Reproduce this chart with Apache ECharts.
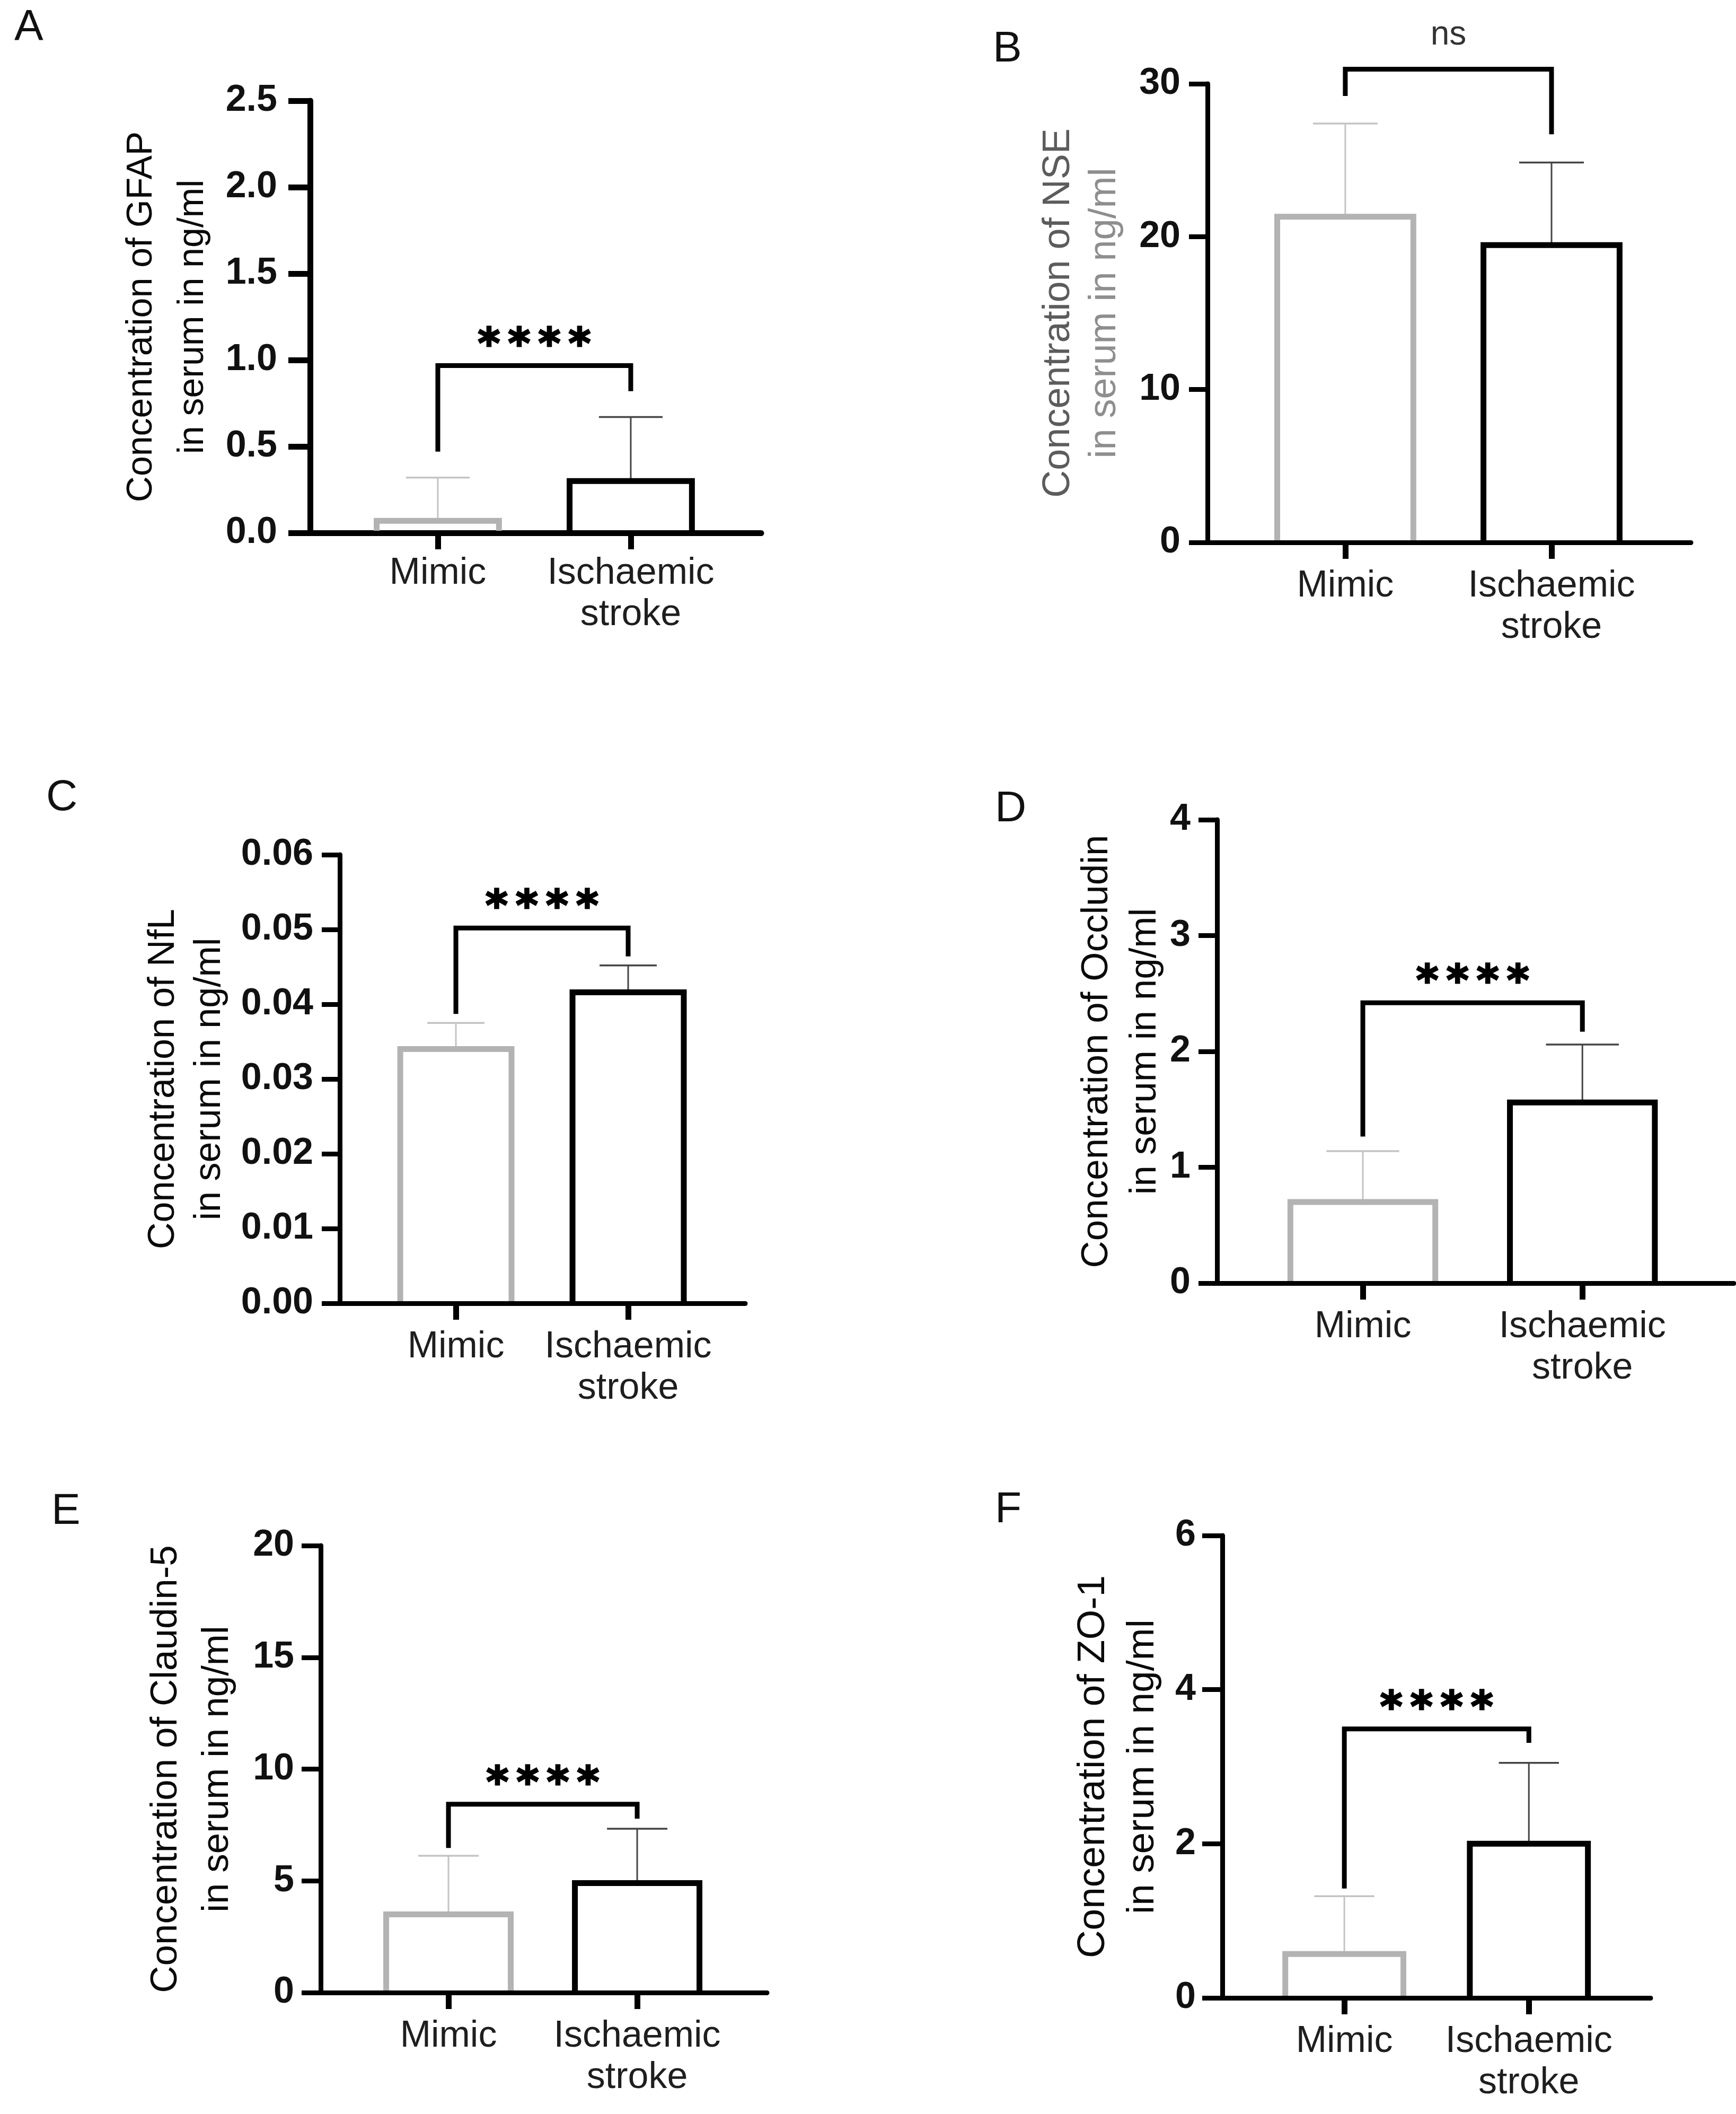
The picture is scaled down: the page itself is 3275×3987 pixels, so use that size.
<!DOCTYPE html>
<html>
<head>
<meta charset="utf-8">
<script src="https://cdn.jsdelivr.net/npm/echarts@6/dist/echarts.min.js"></script>
<style>
html,body{margin:0;padding:0;background:#fff;}
#chart{width:3275px;height:3987px;}
</style>
</head>
<body>
<div id="chart"></div>
<script>
// ---------------- DATA ----------------
const categories = ['Mimic', 'Ischaemic\nstroke'];
const categoryPositions = [1, 2];

// Panel A - GFAP
const gfapTitle = ['Concentration of GFAP', 'in serum in ng/ml'];
const gfapMean = [0.07, 0.30];
const gfapUpper = [0.32, 0.67];
const gfapBracket = [0.47, 0.968, 0.82];   // left foot, top, right foot
const gfapSig = '****';
const gfapTicks = [0, 0.5, 1.0, 1.5, 2.0, 2.5];

// Panel B - NSE
const nseTitle = ['Concentration of NSE', 'in serum in ng/ml'];
const nseMean = [21.3, 19.45];
const nseUpper = [27.4, 24.85];
const nseBracket = [29.2, 30.95, 26.7];
const nseSig = 'ns';
const nseTicks = [0, 10, 20, 30];

// Panel C - NfL
const nflTitle = ['Concentration of NfL', 'in serum in ng/ml'];
const nflMean = [0.034, 0.0416];
const nflUpper = [0.0375, 0.0452];
const nflBracket = [0.0387, 0.0502, 0.0464];
const nflSig = '****';
const nflTicks = [0, 0.01, 0.02, 0.03, 0.04, 0.05, 0.06];

// Panel D - Occludin
const occTitle = ['Concentration of Occludin', 'in serum in ng/ml'];
const occMean = [0.70, 1.56];
const occUpper = [1.14, 2.06];
const occBracket = [1.265, 2.42, 2.17];
const occSig = '****';
const occTicks = [0, 1, 2, 3, 4];

// Panel E - Claudin-5
const cldTitle = ['Concentration of Claudin-5', 'in serum in ng/ml'];
const cldMean = [3.5, 4.9];
const cldUpper = [6.12, 7.33];
const cldBracket = [6.47, 8.43, 7.78];
const cldSig = '****';
const cldTicks = [0, 5, 10, 15, 20];

// Panel F - ZO-1
const zoTitle = ['Concentration of ZO-1', 'in serum in ng/ml'];
const zoMean = [0.57, 2.0];
const zoUpper = [1.32, 3.05];
const zoBracket = [1.42, 3.49, 3.31];
const zoSig = '****';
const zoTicks = [0, 2, 4, 6];

// ---------------- LAYOUT / STYLE ----------------
const FONT = '"Liberation Sans", Arial, sans-serif';
const STAR_FONT = '"DejaVu Sans", sans-serif';
const barColors = ['#b3b3b3', '#000000'];
const errColors = ['#c4c4c4', '#454545'];

const panels = [
  { letter:'A', lp:[27,11], grid:{left:585, top:190, width:851, height:815}, xr:[0.338,2.676],
    ticks:gfapTicks, dec:1, mean:gfapMean, upper:gfapUpper, bracket:gfapBracket, sig:gfapSig,
    title:gfapTitle, tfs:68, nameGap:172, lh:97, hw:0.317, cap:0.165, tickLen:41, tickGap:62,
    labMargin:38, aw:11, gray:false },
  { letter:'B', lp:[1873,52], grid:{left:2278, top:158, width:912, height:865}, xr:[0.332,2.676],
    ticks:nseTicks, dec:0, mean:nseMean, upper:nseUpper, bracket:nseBracket, sig:nseSig,
    title:nseTitle, tfs:72, nameGap:150, lh:87, hw:0.33, cap:0.157, tickLen:35, tickGap:51,
    labMargin:44, aw:9, gray:true },
  { letter:'C', lp:[87,1464], grid:{left:641, top:1612, width:765, height:846}, xr:[0.326,2.68],
    ticks:nflTicks, dec:2, mean:nflMean, upper:nflUpper, bracket:nflBracket, sig:nflSig,
    title:nflTitle, tfs:70, nameGap:202, lh:87, hw:0.323, cap:0.166, tickLen:34, tickGap:50,
    labMargin:44, aw:9, gray:false },
  { letter:'D', lp:[1877,1485], grid:{left:2296, top:1546, width:975, height:874}, xr:[0.336,2.69],
    ticks:occTicks, dec:0, mean:occMean, upper:occUpper, bracket:occBracket, sig:occSig,
    title:occTitle, tfs:71, nameGap:90, lh:91, hw:0.33, cap:0.166, tickLen:35, tickGap:50,
    labMargin:44, aw:9, gray:false },
  { letter:'E', lp:[97,2810], grid:{left:605, top:2915, width:842, height:843}, xr:[0.323,2.688],
    ticks:cldTicks, dec:0, mean:cldMean, upper:cldUpper, bracket:cldBracket, sig:cldSig,
    title:cldTitle, tfs:71, nameGap:146, lh:97, hw:0.33, cap:0.16, tickLen:36, tickGap:50,
    labMargin:44, aw:9, gray:false },
  { letter:'F', lp:[1877,2807], grid:{left:2306, top:2896, width:808, height:872}, xr:[0.339,2.66],
    ticks:zoTicks, dec:0, mean:zoMean, upper:zoUpper, bracket:zoBracket, sig:zoSig,
    title:zoTitle, tfs:73, nameGap:104, lh:93, hw:0.32, cap:0.163, tickLen:38, tickGap:50,
    labMargin:44, aw:9, gray:false }
];

const grids = [], xAxes = [], yAxes = [], series = [], graphics = [];

panels.forEach((p, i) => {
  grids.push(Object.assign({ containLabel:false }, p.grid));
  const yMax = p.ticks[p.ticks.length - 1];
  const yInt = p.ticks[1] - p.ticks[0];

  xAxes.push({
    type:'value', gridIndex:i, min:p.xr[0], max:p.xr[1],
    axisLine:{ show:true, onZero:false, lineStyle:{ color:'#000', width:p.aw } },
    splitLine:{ show:false },
    axisTick:{ show:true, customValues:categoryPositions, length:31, lineStyle:{ color:'#000', width:11 } },
    axisLabel:{ show:true, customValues:categoryPositions,
      formatter:(v) => categories[categoryPositions.indexOf(Math.round(v))] || '',
      margin:p.labMargin, fontFamily:FONT, fontSize:70, lineHeight:78, color:'#1e1e1e', align:'center' }
  });

  const c1 = p.gray ? '#5c5c5c' : '#0a0a0a';
  const c2 = p.gray ? '#8e8e8e' : '#0a0a0a';
  const nameRich = {
    a:{ color:c1, fontSize:p.tfs, lineHeight:p.lh, fontFamily:FONT },
    b:{ color:c2, fontSize:p.tfs, lineHeight:p.lh, fontFamily:FONT } };

  yAxes.push({
    type:'value', gridIndex:i, min:0, max:yMax, interval:yInt,
    axisLine:{ show:true, lineStyle:{ color:'#000', width:p.aw } },
    splitLine:{ show:false },
    axisTick:{ show:true, length:p.tickLen, lineStyle:{ color:'#000', width:p.aw } },
    axisLabel:{ formatter:(v) => v.toFixed(p.dec), fontFamily:FONT, fontWeight:'bold',
      fontSize:70, color:'#111', margin:p.tickGap },
    name:'{a|' + p.title[0] + '}\n{b|' + p.title[1] + '}',
    nameLocation:'middle', nameGap:p.nameGap, nameRotate:90,
    nameTextStyle:{ rich:nameRich, align:'center' }
  });

  // bars + error bars
  series.push({
    type:'custom', xAxisIndex:i, yAxisIndex:i, clip:false, z:3,
    data: categoryPositions.map((x, k) => [x, p.mean[k], p.upper[k]]),
    encode:{ x:0, y:[1,2] },
    renderItem:(params, api) => {
      const k = params.dataIndex;
      const x = api.value(0), v = api.value(1), up = api.value(2);
      const pL = api.coord([x - p.hw, v]), pR = api.coord([x + p.hw, v]);
      const bL = api.coord([x - p.hw, 0]), bR = api.coord([x + p.hw, 0]);
      const pc = api.coord([x, v]), pu = api.coord([x, up]);
      const cl = api.coord([x - p.cap, up]), cr = api.coord([x + p.cap, up]);
      return { type:'group', children:[
        { type:'line', shape:{ x1:pc[0], y1:pc[1], x2:pu[0], y2:pu[1] },
          style:{ stroke:errColors[k], lineWidth:3 } },
        { type:'line', shape:{ x1:cl[0], y1:cl[1], x2:cr[0], y2:cr[1] },
          style:{ stroke:errColors[k], lineWidth:3.5 } },
        { type:'polyline', shape:{ points:[[bL[0], bL[1] - 4], pL, pR, [bR[0], bR[1] - 4]] },
          style:{ stroke:barColors[k], lineWidth:11, fill:'none', lineJoin:'miter' } }
      ]};
    }
  });

  // significance bracket + label
  const isNs = p.sig === 'ns';
  const sigFs = isNs ? 64 : 80;
  const sigText = isNs ? p.sig : p.sig.split('').map(ch => '{s|' + ch + '}').join('');
  series.push({
    type:'custom', xAxisIndex:i, yAxisIndex:i, clip:false, z:4,
    data:[[categoryPositions[0], p.bracket[0], categoryPositions[1], p.bracket[2], p.bracket[1]]],
    encode:{ x:[0,2], y:[1,3,4] },
    renderItem:(params, api) => {
      const a = api.coord([api.value(0), api.value(1)]);
      const b = api.coord([api.value(0), api.value(4)]);
      const c = api.coord([api.value(2), api.value(4)]);
      const d = api.coord([api.value(2), api.value(3)]);
      const tx = (b[0] + c[0]) / 2;
      const ty = b[1] - (isNs ? 64 : 54) + (isNs ? 0 : 0.23 * sigFs);
      const textStyle = isNs ? {
          text:sigText, x:tx, y:ty, font:'normal ' + sigFs + 'px ' + FONT,
          fill:'#333', textAlign:'center', textVerticalAlign:'middle' }
        : {
          text:sigText, x:tx, y:ty, textAlign:'center', textVerticalAlign:'middle',
          font:'bold ' + sigFs + 'px ' + STAR_FONT, fill:'#000',
          rich:{ s:{ width:57, align:'center', font:'bold ' + sigFs + 'px ' + STAR_FONT,
                     fontFamily:STAR_FONT, fontWeight:'bold', fontSize:sigFs,
                     fill:'#000', stroke:'#000', lineWidth:3 } } };
      return { type:'group', children:[
        { type:'polyline', shape:{ points:[a, b, c, d] },
          style:{ stroke:'#000', lineWidth:9, fill:'none', lineJoin:'miter' } },
        { type:'text', style:textStyle }
      ]};
    }
  });

  graphics.push({ type:'text', left:p.lp[0], top:p.lp[1],
    style:{ text:p.letter, font:'normal 82px ' + FONT, fill:'#111' } });
});

const chart = echarts.init(document.getElementById('chart'), null, { renderer:'canvas' });
chart.setOption({
  animation:false,
  backgroundColor:'#ffffff',
  textStyle:{ fontFamily:FONT },
  grid:grids,
  xAxis:xAxes,
  yAxis:yAxes,
  series:series,
  graphic:graphics
});
</script>
</body>
</html>
